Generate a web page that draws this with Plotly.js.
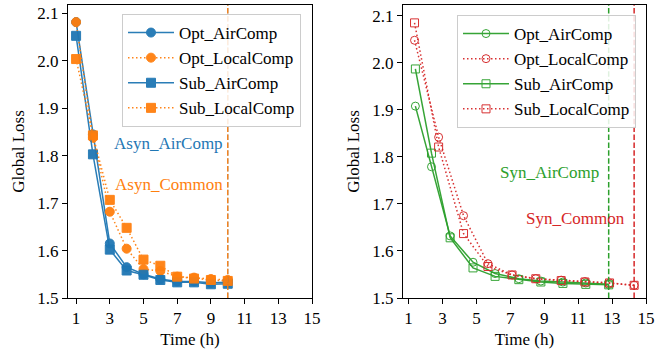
<!DOCTYPE html>
<html>
<head>
<meta charset="utf-8">
<script src="https://cdn.plot.ly/plotly-3.0.1.min.js"></script>
<style>html,body{margin:0;padding:0;background:#fff;}#chart{width:662px;height:355px;}</style>
</head>
<body>
<div id="chart"></div>
<script>
// ---- Left panel (asynchronous) ----
const asynX = [1, 2, 3, 4, 5, 6, 7, 8, 9, 10];
const asynOptAir   = [2.082, 1.845, 1.615, 1.565, 1.550, 1.540, 1.535, 1.535, 1.532, 1.533];
const asynOptLocal = [2.082, 1.838, 1.682, 1.604, 1.561, 1.557, 1.545, 1.543, 1.540, 1.538];
const asynSubAir   = [2.053, 1.803, 1.602, 1.558, 1.549, 1.538, 1.533, 1.533, 1.529, 1.530];
const asynSubLocal = [2.004, 1.843, 1.707, 1.648, 1.581, 1.568, 1.545, 1.541, 1.538, 1.536];

// ---- Right panel (synchronous) ----
const synAirX   = [1.4, 2.35, 3.45, 4.8, 6.1, 7.5, 8.8, 10.1, 11.45, 12.8];
const synLocalX = [1.35, 2.77, 4.24, 5.68, 7.1, 8.5, 10.0, 11.4, 12.85, 14.3];
const synOptAir   = [1.908, 1.779, 1.632, 1.576, 1.552, 1.541, 1.536, 1.534, 1.532, 1.529];
const synSubAir   = [1.987, 1.808, 1.628, 1.564, 1.546, 1.539, 1.534, 1.531, 1.529, 1.528];
const synOptLocal = [2.048, 1.842, 1.675, 1.573, 1.549, 1.541, 1.538, 1.535, 1.532, 1.527];
const synSubLocal = [2.085, 1.821, 1.637, 1.567, 1.549, 1.541, 1.537, 1.534, 1.532, 1.527];

const seriesNames = ['Opt_AirComp', 'Opt_LocalComp', 'Sub_AirComp', 'Sub_LocalComp'];
const xTicks = [1, 3, 5, 7, 9, 11, 13, 15];
const yTicks = [1.5, 1.6, 1.7, 1.8, 1.9, 2.0, 2.1];

const BLUE = '#1f77b4', ORANGE = '#ff7f0e', GREEN = '#2ca02c', RED = '#d62728';
const FONT = "'Liberation Serif', 'Times New Roman', serif";
const DOT = '1.5px,2.5px';
const DASH = '5.5px,2.4px';

function tr(x, y, name, color, sym, dash, xa, ya, leg, size) {
  return {
    x: x, y: y, name: name, type: 'scatter', mode: 'lines+markers',
    xaxis: xa, yaxis: ya, legend: leg,
    line: {color: color, width: 1.5, dash: dash},
    marker: {symbol: sym, size: size, color: color, line: {color: color, width: 1}},
    opacity: 0.95
  };
}

const data = [
  tr(asynX, asynOptAir,   seriesNames[0], BLUE,   'circle', 'solid', 'x',  'y',  'legend', 9),
  tr(asynX, asynOptLocal, seriesNames[1], ORANGE, 'circle', DOT,     'x',  'y',  'legend', 9),
  tr(asynX, asynSubAir,   seriesNames[2], BLUE,   'square', 'solid', 'x',  'y',  'legend', 9),
  tr(asynX, asynSubLocal, seriesNames[3], ORANGE, 'square', DOT,     'x',  'y',  'legend', 9),
  tr(synAirX,   synOptAir,   seriesNames[0], GREEN, 'circle-open', 'solid', 'x2', 'y2', 'legend2', 8),
  tr(synLocalX, synOptLocal, seriesNames[1], RED,   'circle-open', DOT,     'x2', 'y2', 'legend2', 8),
  tr(synAirX,   synSubAir,   seriesNames[2], GREEN, 'square-open', 'solid', 'x2', 'y2', 'legend2', 8),
  tr(synLocalX, synSubLocal, seriesNames[3], RED,   'square-open', DOT,     'x2', 'y2', 'legend2', 8)
];

function vline(xref, yref, x, color, op) {
  return {type: 'line', xref: xref, yref: yref + ' domain', x0: x, x1: x, y0: 0, y1: 1,
          line: {color: color, width: 1.5, dash: DASH}, opacity: op, layer: 'above'};
}
const asynEnd = asynX[asynX.length - 1];
const synAirEnd = synAirX[synAirX.length - 1];
const synLocalEnd = synLocalX[synLocalX.length - 1];

function axisX(domain, range, anchor) {
  return {
    domain: domain, range: range, anchor: anchor,
    tickvals: xTicks, ticks: 'outside', ticklen: 5, tickwidth: 1, tickcolor: '#000',
    showline: true, mirror: true, linecolor: '#000', linewidth: 1,
    showgrid: false, zeroline: false,
    tickfont: {family: FONT, size: 17, color: '#000'},
    title: {text: 'Time (h)', font: {family: FONT, size: 17, color: '#000'}, standoff: 5},
    automargin: false
  };
}
function axisY(domain, range, anchor) {
  return {
    domain: domain, range: range, anchor: anchor,
    tickvals: yTicks, tickformat: '.1f', ticks: 'outside', ticklen: 5, tickwidth: 1, tickcolor: '#000',
    showline: true, mirror: true, linecolor: '#000', linewidth: 1,
    showgrid: false, zeroline: false,
    tickfont: {family: FONT, size: 17, color: '#000'},
    title: {text: 'Global Loss', font: {family: FONT, size: 17, color: '#000'}, standoff: 8},
    automargin: false
  };
}

const legendBase = {
  xanchor: 'left', yanchor: 'top',
  bgcolor: 'rgba(255,255,255,0.85)', bordercolor: '#cccccc', borderwidth: 1,
  font: {family: FONT, size: 17, color: '#000'},
  tracegroupgap: 0, itemwidth: 46
};

const layout = {
  width: 662, height: 355,
  margin: {l: 0, r: 0, t: 0, b: 0, pad: 0},
  paper_bgcolor: '#fff', plot_bgcolor: '#fff',
  font: {family: FONT, size: 17, color: '#000'},
  xaxis:  axisX([68 / 662, 312 / 662], [0.52, 15], 'y'),
  yaxis:  axisY([1 - 298 / 355, 1 - 5 / 355], [1.5, 2.118], 'x'),
  xaxis2: axisX([403 / 662, 646 / 662], [0.67, 15], 'y2'),
  yaxis2: axisY([1 - 298 / 355, 1 - 5 / 355], [1.5, 2.123], 'x2'),
  legend:  Object.assign({}, legendBase, {x: 122 / 662, y: 1 - 14 / 355}),
  legend2: Object.assign({}, legendBase, {x: 457 / 662, y: 1 - 15 / 355}),
  showlegend: true,
  shapes: [
    vline('x', 'y', asynEnd, BLUE, 0.5),
    vline('x', 'y', asynEnd, ORANGE, 0.9),
    vline('x2', 'y2', synAirEnd, GREEN, 1),
    vline('x2', 'y2', synLocalEnd, RED, 1)
  ],
  annotations: [
    {xref: 'x', yref: 'y', x: 6.46, y: 1.826, text: 'Asyn_AirComp', showarrow: false,
     font: {family: FONT, size: 17, color: BLUE}},
    {xref: 'x', yref: 'y', x: 6.5, y: 1.74, text: 'Asyn_Common', showarrow: false,
     font: {family: FONT, size: 17, color: ORANGE}},
    {xref: 'x2', yref: 'y2', x: 9.3, y: 1.767, text: 'Syn_AirComp', showarrow: false,
     font: {family: FONT, size: 17, color: GREEN}},
    {xref: 'x2', yref: 'y2', x: 10.82, y: 1.668, text: 'Syn_Common', showarrow: false,
     font: {family: FONT, size: 17, color: RED}}
  ]
};

Plotly.newPlot('chart', data, layout, {displayModeBar: false, staticPlot: true});
</script>
</body>
</html>
